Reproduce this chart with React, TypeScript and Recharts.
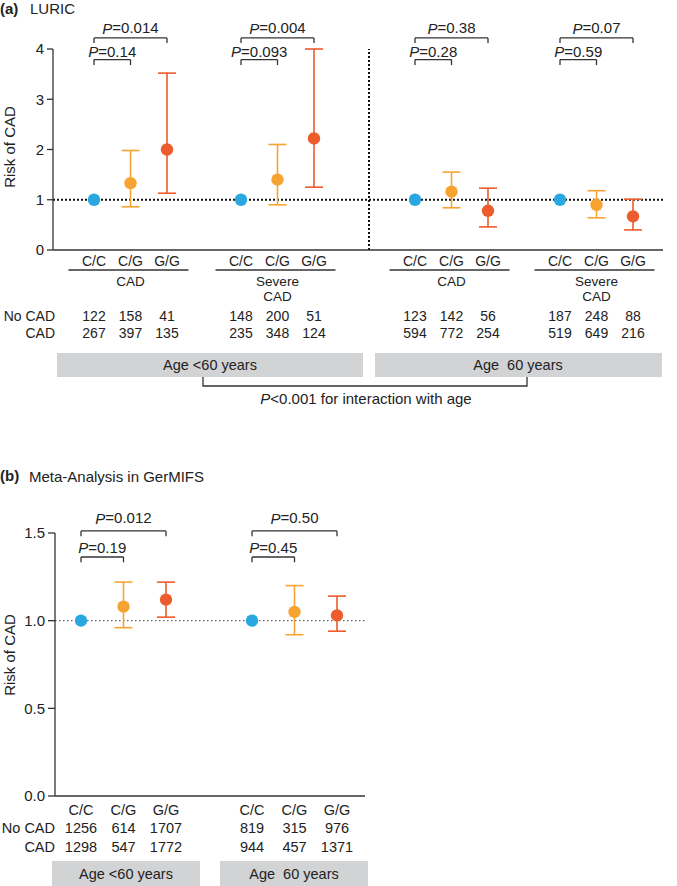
import {
  ComposedChart,
  Scatter,
  ErrorBar,
  XAxis,
  YAxis,
  ReferenceLine,
  ReferenceDot,
} from 'recharts'

const GENOTYPES = ['C/C', 'C/G', 'G/G']
const COLORS = ['#29a8e0', '#f7a332', '#ee5b2c']
const INK = '#222'
const LINE = '#333'

// (a) LURIC
const A_GROUPS = [['CAD'], ['Severe', 'CAD'], ['CAD'], ['Severe', 'CAD']]
const A_CC = [1, 1, 1, 1]
const A_CG = [1.33, 1.4, 1.16, 0.9]
const A_CG_CI = [[0.86, 1.98], [0.9, 2.1], [0.84, 1.55], [0.64, 1.18]]
const A_GG = [2.0, 2.22, 0.78, 0.67]
const A_GG_CI = [[1.13, 3.52], [1.25, 4.0], [0.46, 1.23], [0.4, 1.01]]
const A_P_GG = ['0.014', '0.004', '0.38', '0.07']
const A_P_CG = ['0.14', '0.093', '0.28', '0.59']
const A_NO_CAD = [[122, 158, 41], [148, 200, 51], [123, 142, 56], [187, 248, 88]]
const A_CAD = [[267, 397, 135], [235, 348, 124], [594, 772, 254], [519, 649, 216]]
const A_TICKS = [0, 1, 2, 3, 4]

// (b) Meta-Analysis in GerMIFS
const B_CC = [1, 1]
const B_CG = [1.08, 1.05]
const B_CG_CI = [[0.96, 1.22], [0.92, 1.2]]
const B_GG = [1.12, 1.03]
const B_GG_CI = [[1.02, 1.22], [0.94, 1.14]]
const B_P_GG = ['0.012', '0.50']
const B_P_CG = ['0.19', '0.45']
const B_NO_CAD = [[1256, 614, 1707], [819, 315, 976]]
const B_CAD = [[1298, 547, 1772], [944, 457, 1371]]
const B_TICKS = [0, 0.5, 1, 1.5]

// layout: x slot of the first genotype in each group, and step between genotypes
const A_GX = [41, 188, 362, 507]
const A_STEP = 36.5
const B_GX = [26, 197]
const B_STEP = 42.5

function rows(gx: number[], step: number, k: number, vals: number[], ci?: number[][]) {
  return gx.map((x0, i) => ({
    x: x0 + k * step,
    y: vals[i],
    err: ci ? [vals[i] - ci[i][0], ci[i][1] - vals[i]] : [0, 0],
  }))
}

function slots(gx: number[], step: number) {
  return gx.flatMap(x0 => [0, 1, 2].map(k => x0 + k * step))
}

function Dot(color: string) {
  return (p: any) => <circle cx={p.cx} cy={p.cy} r={6.2} fill={color} />
}

function PText({ cx, cy, p }: { cx: number; cy: number; p: string }) {
  return (
    <text x={cx} y={cy} textAnchor="middle" dominantBaseline="central" fontSize={15} fill={INK}>
      <tspan fontStyle="italic">P</tspan>={p}
    </text>
  )
}

function bracket(key: string, x1: number, x2: number, yLine: number, yLeg: number, yText: number, p: string) {
  const st = { stroke: LINE, strokeWidth: 1.3, ifOverflow: 'visible' as const }
  return [
    <ReferenceLine key={key + 'l'} segment={[{ x: x1, y: yLeg }, { x: x1, y: yLine }]} {...st} />,
    <ReferenceLine key={key + 't'} segment={[{ x: x1, y: yLine }, { x: x2, y: yLine }]} {...st} />,
    <ReferenceLine key={key + 'r'} segment={[{ x: x2, y: yLine }, { x: x2, y: yLeg }]} {...st} />,
    <ReferenceDot
      key={key + 'p'}
      x={(x1 + x2) / 2}
      y={yText}
      ifOverflow="visible"
      shape={(pr: any) => <PText cx={pr.cx} cy={pr.cy} p={p} />}
    />,
  ]
}

function series(cc: any[], cg: any[], gg: any[]) {
  return [cc, cg, gg].map((d, k) => (
    <Scatter key={'s' + k} data={d} dataKey="y" isAnimationActive={false} shape={Dot(COLORS[k])}>
      {k > 0 && <ErrorBar dataKey="err" direction="y" width={9} stroke={COLORS[k]} strokeWidth={1.6} />}
    </Scatter>
  ))
}

function TickA(props: any) {
  const { x, y, index } = props
  const g = Math.floor(index / 3)
  const k = index % 3
  const t = { textAnchor: 'middle' as const, dominantBaseline: 'central' as const, fontSize: 14, fill: INK }
  return (
    <g>
      <text x={x} y={y + 11} {...t}>{GENOTYPES[k]}</text>
      {k === 1 && (
        <>
          <line x1={x - 62} x2={x + 58} y1={y + 20} y2={y + 20} stroke={LINE} strokeWidth={1.3} />
          {A_GROUPS[g].map((s, j) => (
            <text key={j} x={x} y={y + 31 + j * 15} {...t} fontSize={13.5}>{s}</text>
          ))}
        </>
      )}
      <text x={x} y={y + 66} {...t}>{A_NO_CAD[g][k]}</text>
      <text x={x} y={y + 83} {...t}>{A_CAD[g][k]}</text>
    </g>
  )
}

function TickB(props: any) {
  const { x, y, index } = props
  const g = Math.floor(index / 3)
  const k = index % 3
  const t = { textAnchor: 'middle' as const, dominantBaseline: 'central' as const, fontSize: 14.5, fill: INK }
  return (
    <g>
      <text x={x} y={y + 14} {...t}>{GENOTYPES[k]}</text>
      <text x={x} y={y + 32} {...t}>{B_NO_CAD[g][k]}</text>
      <text x={x} y={y + 51} {...t}>{B_CAD[g][k]}</text>
    </g>
  )
}

const axisStyle = { stroke: LINE, strokeWidth: 1.3 }

function ChartA() {
  const xs = slots(A_GX, A_STEP)
  return (
    <ComposedChart width={677} height={420} margin={{ top: 49, right: 14, bottom: 20, left: 0 }}>
      <XAxis
        type="number"
        dataKey="x"
        domain={[0, 610]}
        ticks={xs}
        interval={0}
        tickSize={0}
        tickMargin={0}
        height={150}
        axisLine={axisStyle}
        tickLine={false}
        tick={<TickA />}
      />
      <YAxis
        type="number"
        domain={[0, 4]}
        ticks={A_TICKS}
        width={53}
        tickSize={6}
        tickMargin={3}
        axisLine={axisStyle}
        tickLine={axisStyle}
        tick={{ fontSize: 15, fill: INK }}
      />
      <ReferenceLine y={1} stroke="#111" strokeWidth={2} strokeDasharray="2 2" />
      <ReferenceLine x={316} stroke="#111" strokeWidth={2} strokeDasharray="2 2" />
      {A_GX.flatMap((x0, i) => [
        ...bracket('ag' + i, x0, x0 + 2 * A_STEP, 4.22, 4.12, 4.42, A_P_GG[i]),
        ...bracket('ac' + i, x0, x0 + A_STEP, 3.79, 3.68, 3.96, A_P_CG[i]),
      ])}
      {series(
        rows(A_GX, A_STEP, 0, A_CC),
        rows(A_GX, A_STEP, 1, A_CG, A_CG_CI),
        rows(A_GX, A_STEP, 2, A_GG, A_GG_CI),
      )}
    </ComposedChart>
  )
}

function ChartB() {
  const xs = slots(B_GX, B_STEP)
  return (
    <ComposedChart width={677} height={426} margin={{ top: 73, right: 312, bottom: 0, left: 0 }}>
      <XAxis
        type="number"
        dataKey="x"
        domain={[0, 310]}
        ticks={xs}
        interval={0}
        tickSize={0}
        tickMargin={0}
        height={90}
        axisLine={axisStyle}
        tickLine={false}
        tick={<TickB />}
      />
      <YAxis
        type="number"
        domain={[0, 1.5]}
        ticks={B_TICKS}
        width={55}
        tickSize={7}
        tickMargin={3}
        axisLine={axisStyle}
        tickLine={axisStyle}
        tickFormatter={(v: number) => v.toFixed(1)}
        tick={{ fontSize: 15, fill: INK }}
      />
      <ReferenceLine y={1} stroke="#444" strokeWidth={1} strokeDasharray="1.5 2.5" />
      {B_GX.flatMap((x0, i) => [
        ...bracket('bg' + i, x0, x0 + 2 * B_STEP, 1.512, 1.482, 1.586, B_P_GG[i]),
        ...bracket('bc' + i, x0, x0 + B_STEP, 1.363, 1.333, 1.42, B_P_CG[i]),
      ])}
      {series(
        rows(B_GX, B_STEP, 0, B_CC),
        rows(B_GX, B_STEP, 1, B_CG, B_CG_CI),
        rows(B_GX, B_STEP, 2, B_GG, B_GG_CI),
      )}
    </ComposedChart>
  )
}

const BOX = '#d2d3d5'

function Overlay() {
  const t = { dominantBaseline: 'central' as const, fill: INK }
  return (
    <svg width={677} height={886} style={{ position: 'absolute', left: 0, top: 0, pointerEvents: 'none' }}>
      {/* panel a */}
      <text x={0} y={8} fontSize={15} fontWeight="bold" {...t}>(a)</text>
      <text x={30} y={8} fontSize={15} {...t}>LURIC</text>
      <text x={9} y={147} fontSize={15} textAnchor="middle" transform="rotate(-90 9 147)" {...t}>Risk of CAD</text>
      <text x={55} y={316} fontSize={14} textAnchor="end" {...t}>No CAD</text>
      <text x={55} y={333} fontSize={14} textAnchor="end" {...t}>CAD</text>
      <rect x={57} y={353} width={306} height={24} fill={BOX} />
      <rect x={375} y={353} width={287} height={24} fill={BOX} />
      <text x={210} y={365} fontSize={14.5} textAnchor="middle" {...t}>Age &lt;60 years</text>
      <text x={518} y={365} fontSize={14.5} textAnchor="middle" {...t}>{'Age\u00a0\u00a060 years'}</text>
      <path d="M203 377 V386 H527 V377" fill="none" stroke={LINE} strokeWidth={1.3} />
      <text x={366} y={398} fontSize={15} textAnchor="middle" {...t}>
        <tspan fontStyle="italic">P</tspan>&lt;0.001 for interaction with age
      </text>
      {/* panel b */}
      <text x={0} y={475} fontSize={15} fontWeight="bold" {...t}>(b)</text>
      <text x={29} y={476} fontSize={15} {...t}>Meta-Analysis in GerMIFS</text>
      <text x={9} y={655} fontSize={15} textAnchor="middle" transform="rotate(-90 9 655)" {...t}>Risk of CAD</text>
      <text x={55} y={828} fontSize={14.5} textAnchor="end" {...t}>No CAD</text>
      <text x={55} y={847} fontSize={14.5} textAnchor="end" {...t}>CAD</text>
      <rect x={52} y={861} width={148} height={30} fill={BOX} />
      <rect x={220} y={861} width={148} height={30} fill={BOX} />
      <text x={126} y={874} fontSize={14.5} textAnchor="middle" {...t}>Age &lt;60 years</text>
      <text x={294} y={874} fontSize={14.5} textAnchor="middle" {...t}>{'Age\u00a0\u00a060 years'}</text>
    </svg>
  )
}

export default function App() {
  return (
    <div
      style={{
        position: 'absolute',
        left: 0,
        top: 0,
        width: 677,
        height: 886,
        background: '#fff',
        fontFamily: '"Liberation Sans", Arial, Helvetica, sans-serif',
      }}
    >
      <div style={{ position: 'absolute', left: 0, top: 0 }}>
        <ChartA />
      </div>
      <div style={{ position: 'absolute', left: 0, top: 460 }}>
        <ChartB />
      </div>
      <Overlay />
    </div>
  )
}
